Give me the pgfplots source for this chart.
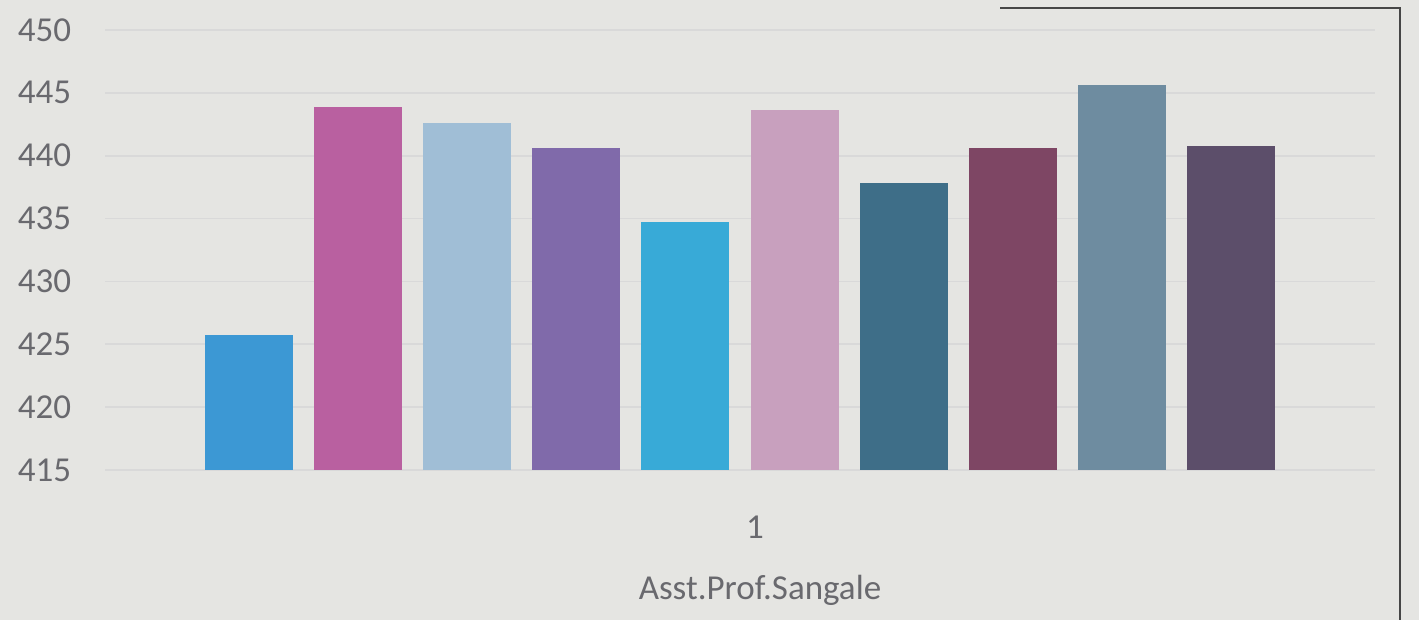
\documentclass[border=0pt]{standalone}
\usepackage{pgfplots}
\pgfplotsset{compat=1.18}
\usepackage{fontspec}
\setmainfont{Carlito}
\definecolor{bg}{RGB}{229,229,226}
\definecolor{txt}{RGB}{105,105,110}
\definecolor{c1}{RGB}{60,152,212}
\definecolor{c2}{RGB}{185,96,160}
\definecolor{c3}{RGB}{160,190,214}
\definecolor{c4}{RGB}{128,106,170}
\definecolor{c5}{RGB}{56,170,215}
\definecolor{c6}{RGB}{200,160,190}
\definecolor{c7}{RGB}{62,110,136}
\definecolor{c8}{RGB}{126,70,100}
\definecolor{c9}{RGB}{110,140,160}
\definecolor{c10}{RGB}{92,78,106}
\begin{document}
\begin{tikzpicture}
\fill[bg] (0,0) rectangle (567.6pt,248pt);
\useasboundingbox (0,0) rectangle (567.6pt,248pt);
\draw[gray!55!black, line width=0.8pt] (400pt,244.8pt) -- (560pt,244.8pt) -- (560pt,0pt);
\begin{axis}[
  at={(42pt,60pt)}, anchor=south west,
  scale only axis, width=508pt, height=176pt,
  xmin=0, xmax=2, ymin=415, ymax=450,
  ytick={415,420,...,450}, xtick={1},
  ymajorgrids, grid style={gray!30, line width=0.7pt},
  axis line style={draw=none}, major tick length=0pt,
  ybar, bar width=0.1386,
  /pgf/number format/assume math mode=true,
  ticklabel style={font=\fontsize{14}{16}\selectfont, text=txt},
  yticklabel style={anchor=east, xshift=-10pt},
  xticklabel style={yshift=-15pt, xshift=6pt},
  xlabel={Asst.Prof.Sangale},
  xlabel style={at={(axis description cs:0.5,0)}, anchor=center, yshift=-48pt, xshift=8pt, font=\fontsize{14}{16}\selectfont, text=txt},
]
\addplot[fill=c1, draw=none, bar shift=-0.7727] coordinates {(1,425.7)};
\addplot[fill=c2, draw=none, bar shift=-0.6010] coordinates {(1,443.9)};
\addplot[fill=c3, draw=none, bar shift=-0.4293] coordinates {(1,442.6)};
\addplot[fill=c4, draw=none, bar shift=-0.2576] coordinates {(1,440.6)};
\addplot[fill=c5, draw=none, bar shift=-0.0859] coordinates {(1,434.7)};
\addplot[fill=c6, draw=none, bar shift=0.0859] coordinates {(1,443.6)};
\addplot[fill=c7, draw=none, bar shift=0.2576] coordinates {(1,437.8)};
\addplot[fill=c8, draw=none, bar shift=0.4293] coordinates {(1,440.6)};
\addplot[fill=c9, draw=none, bar shift=0.6010] coordinates {(1,445.6)};
\addplot[fill=c10, draw=none, bar shift=0.7727] coordinates {(1,440.8)};
\end{axis}
\end{tikzpicture}
\end{document}
